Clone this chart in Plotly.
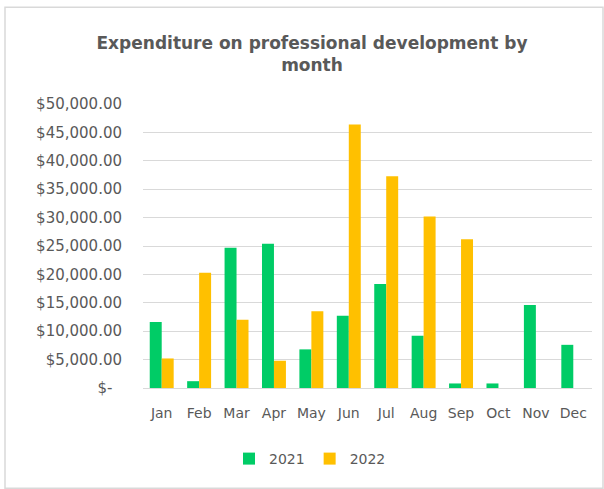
import plotly.graph_objects as go

months = ["Jan", "Feb", "Mar", "Apr", "May", "Jun", "Jul", "Aug", "Sep", "Oct", "Nov", "Dec"]
spend_2021 = [11600, 1200, 24700, 25400, 6800, 12700, 18300, 9200, 800, 800, 14600, 7600]
spend_2022 = [5200, 20300, 12000, 4800, 13500, 46400, 37300, 30200, 26200, None, None, None]

tick_vals = [0, 5000, 10000, 15000, 20000, 25000, 30000, 35000, 40000, 45000, 50000]
tick_text = ["$-\u00a0\u00a0", "$5,000.00", "$10,000.00", "$15,000.00", "$20,000.00",
             "$25,000.00", "$30,000.00", "$35,000.00", "$40,000.00", "$45,000.00", "$50,000.00"]

GREEN = "#00CC66"
GOLD = "#FFC000"
TEXT = "#595959"
GRID = "#D9D9D9"
FONT = "DejaVu Sans"

fig = go.Figure()
fig.add_trace(go.Bar(name="2021", x=months, y=spend_2021, marker=dict(color=GREEN, line=dict(width=0))))
fig.add_trace(go.Bar(name="2022", x=months, y=spend_2022, marker=dict(color=GOLD, line=dict(width=0))))

fig.update_layout(
    width=604, height=489,
    margin=dict(l=143, r=12, t=104, b=101),
    paper_bgcolor="white", plot_bgcolor="white",
    barmode="group", bargap=0.36, bargroupgap=0,
    font=dict(family=FONT, color=TEXT, size=14),
    title=dict(
        text="<b>Expenditure on professional development by<br>month</b>",
        x=312 / 604, xref="container", xanchor="center",
        y=1 - 49 / 489, yref="container", yanchor="middle",
        font=dict(family=FONT, size=17, color=TEXT),
    ),
    legend=dict(
        orientation="h", x=310 / 604, xref="container", xanchor="center",
        y=1 - 459 / 489, yref="container", yanchor="middle",
        font=dict(family=FONT, size=14, color=TEXT),
        itemwidth=30, tracegroupgap=0,
    ),
    shapes=[dict(type="rect", xref="paper", yref="paper",
                 x0=-138 / 449, x1=460 / 449, y0=-100 / 283.5, y1=380 / 283.5,
                 line=dict(color=GRID, width=1.5), layer="below")],
)

fig.update_xaxes(
    showgrid=False, showline=True, linecolor=GRID, linewidth=1,
    ticks="", ticklabelstandoff=12, tickfont=dict(size=14, color=TEXT),
)
fig.update_yaxes(
    range=[0, 50000], tickvals=tick_vals, ticktext=tick_text,
    showgrid=True, gridcolor=GRID, gridwidth=1, zeroline=False,
    ticks="", ticklabelstandoff=20, tickfont=dict(size=15, color=TEXT),
)

fig.write_html("out.html")
